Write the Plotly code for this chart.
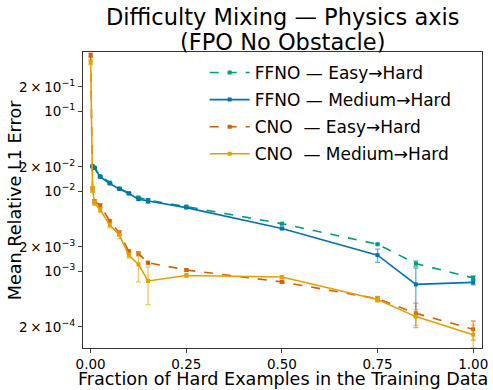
import plotly.graph_objects as go

# fraction of hard examples in the training data
x_frac = [0, 0.005, 0.01, 0.025, 0.05, 0.075, 0.1, 0.125, 0.15, 0.25, 0.5, 0.75, 0.85, 1.0]
x_ffno = x_frac[1:]

ffno_easy = [0.0205, 0.0196, 0.0153, 0.0127, 0.0108, 0.0094, 0.0083, 0.0077, 0.0064, 0.0039, 0.00216, 0.00124, 0.00082]
ffno_easy_err = [0.0004, 0.0003, 0.0003, 0.0002, 0.0002, 0.0002, 0.0002, 0.0002, 0.0001, 0.0001, 0.00005, 0.0001, 0.00005]
ffno_med = [0.0202, 0.0194, 0.0150, 0.0124, 0.0106, 0.0093, 0.0079, 0.0075, 0.0062, 0.0034, 0.00158, 0.00068, 0.00072]
ffno_med_err = [0.0004, 0.0003, 0.0003, 0.0003, 0.0002, 0.0002, 0.0002, 0.0005, 0.0001, 0.0001, 0.0003, 0.00041, 0.00005]

cno_easy = [0.50, 0.0105, 0.0074, 0.0066, 0.0042, 0.0030, 0.00175, 0.00165, 0.00127, 0.00103, 0.00073, 0.00045, 0.000296, 0.000187]
cno_easy_err = [0.03, 0.0008, 0.0004, 0.0003, 0.0002, 0.0002, 0.0001, 0.0001, 0.00005, 0.00004, 0.00003, 0.00003, 0.0001, 0.00005]
cno_med = [0.41, 0.0105, 0.0071, 0.0058, 0.00376, 0.00282, 0.00157, 0.00121, 0.00075, 0.00088, 0.00084, 0.00044, 0.000269, 0.00016]
cno_med_err = [0.03, 0.0008, 0.0005, 0.0004, 0.0003, 0.0003, 0.00012, 0.00048, 0.00037, 0.00005, 0.00004, 0.00003, 0.00006, 0.00005]

y_tickvals = [0.2, 0.1, 0.02, 0.01, 0.002, 0.001, 0.0002]
y_ticktext = ["2\u2009×\u200910<sup>−1</sup>", "10<sup>−1</sup>", "2\u2009×\u200910<sup>−2</sup>", "10<sup>−2</sup>",
              "2\u2009×\u200910<sup>−3</sup>", "10<sup>−3</sup>", "2\u2009×\u200910<sup>−4</sup>"]
x_tickvals = [0, 0.25, 0.5, 0.75, 1.0]

series = [
    ("FFNO — Easy→Hard", x_ffno, ffno_easy, ffno_easy_err, "#029e73", "rgba(2,158,115,0.6)", "dash"),
    ("FFNO — Medium→Hard", x_ffno, ffno_med, ffno_med_err, "#0173b2", "rgba(1,115,178,0.6)", "solid"),
    ("CNO\u00a0 — Easy→Hard", x_frac, cno_easy, cno_easy_err, "#d55e00", "rgba(213,94,0,0.6)", "dash"),
    ("CNO\u00a0 — Medium→Hard", x_frac, cno_med, cno_med_err, "#e69f00", "rgba(230,159,0,0.6)", "solid"),
]

fig = go.Figure()
for i, (name, xs, ys, errs, col, ecol, dash) in enumerate(series):
    fig.add_trace(go.Scatter(
        x=xs, y=ys, name=name, mode="lines+markers", legendgroup=str(i),
        line=dict(color=col, width=1.6, dash=dash),
        marker=dict(symbol="square", size=4, color=col),
        error_y=dict(type="data", array=errs, visible=True, color=ecol, thickness=1.3, width=2.5),
    ))

font = "DejaVu Sans, sans-serif"
fig.update_layout(
    width=493, height=390,
    margin=dict(l=83, r=11, t=52, b=42, autoexpand=False),
    paper_bgcolor="white", plot_bgcolor="white",
    font=dict(family=font, color="black"),
    legend=dict(x=0.305, y=0.99, xanchor="left", yanchor="top",
                bgcolor="rgba(255,255,255,0)", font=dict(size=17, family=font),
                itemwidth=40, tracegroupgap=2),
    showlegend=True,
)

# title lines and axis titles
fig.add_annotation(text="Difficulty Mixing — Physics axis", x=0.5, y=1.118, xref="paper", yref="paper",
                   showarrow=False, xanchor="center", yanchor="middle", font=dict(size=22.5))
fig.add_annotation(text="(FPO No Obstacle)", x=0.5, y=1.035, xref="paper", yref="paper",
                   showarrow=False, xanchor="center", yanchor="middle", font=dict(size=22.5))
fig.add_annotation(text="Fraction of Hard Examples in the Training Data", x=0.5, y=-0.104,
                   xref="paper", yref="paper", showarrow=False, xanchor="center", yanchor="middle",
                   font=dict(size=17.6))
fig.add_annotation(text="Mean Relative L1 Error", x=-0.17, y=0.5, xref="paper", yref="paper",
                   showarrow=False, xanchor="center", yanchor="middle", textangle=-90,
                   font=dict(size=17.6))

fig.update_xaxes(
    range=[-0.02, 1.023], tickvals=x_tickvals, tickformat=".2f", automargin=False,
    tickfont=dict(size=13.5), ticks="outside", ticklen=3.5,
    showline=True, linecolor="#333", linewidth=1, mirror=True, showgrid=False, zeroline=False,
)
fig.update_yaxes(
    type="log", range=[-3.9625, -0.2625], tickvals=y_tickvals, ticktext=y_ticktext, automargin=False,
    tickfont=dict(size=13.5), ticks="outside", ticklen=4,
    showline=True, linecolor="#333", linewidth=1, mirror=True, showgrid=False, zeroline=False,
)

# page body has a default margin that would shift the figure
fig.write_html("out.html", config={"displayModeBar": False},
               post_script="document.body.style.margin='0';")
